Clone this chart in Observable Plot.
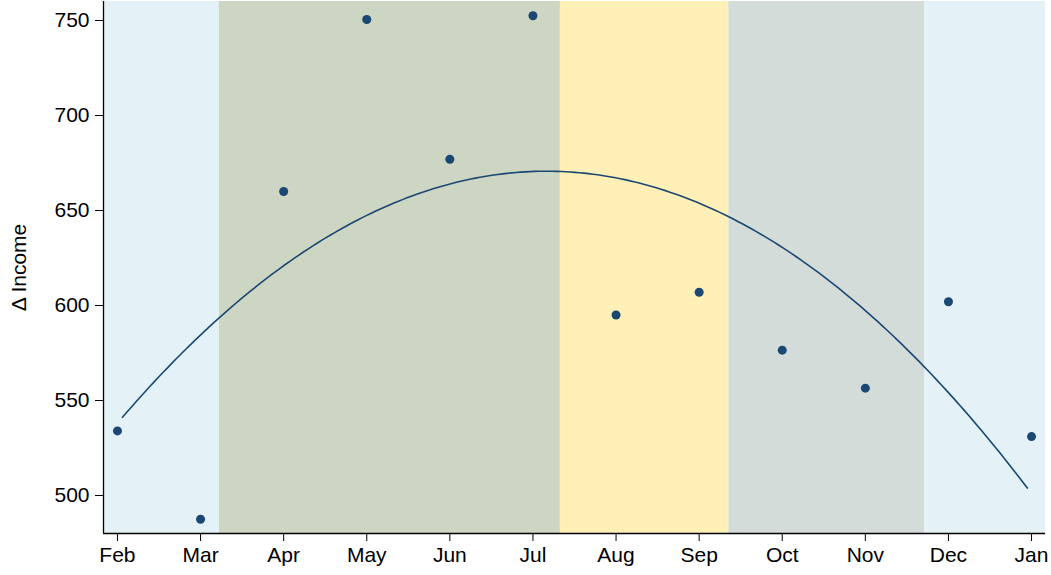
<!DOCTYPE html>
<html>
<head>
<meta charset="utf-8">
<script src="https://cdn.jsdelivr.net/npm/d3@7"></script>
<script src="https://cdn.jsdelivr.net/npm/@observablehq/plot@0.6"></script>
<style>
  html, body { margin: 0; padding: 0; background: #fff; }
  #chart svg { display: block; }
  #chart svg text { font-size: 21px !important; font-family: Arial, 'Liberation Sans', Helvetica, sans-serif; fill: #000; }
</style>
</head>
<body>
<div id="chart"></div>
<script>
// Month categories (x = 1..12)
const months = ["Feb","Mar","Apr","May","Jun","Jul","Aug","Sep","Oct","Nov","Dec","Jan"];
// Δ Income values
const income = [534, 487.5, 660, 750.5, 677, 752.5, 595, 607, 576.5, 556.5, 602, 531];
// y-axis ticks
const yTicks = [500, 550, 600, 650, 700, 750];
// Season bands (in month-index units)
const seasonNames = ["Winter", "Spring", "Summer", "Fall", "Winter "];
const seasonStart = [0.832, 2.227, 6.33, 8.358, 10.713];
const seasonEnd   = [2.227, 6.33, 8.358, 10.713, 12.168];
// Range of fitted curve
const fitStart = 1.06, fitEnd = 11.95;

const xDomain = [0.832, 12.168];
const yDomain = [480, 760];

const points = months.map((m, i) => ({x: i + 1, month: m, y: income[i]}));
const bands = seasonNames.map((s, i) => ({season: s, x1: seasonStart[i], x2: seasonEnd[i]}));

// Quadratic least-squares fit of income on month index
function quadFit(xs, ys) {
  let S = [[0,0,0],[0,0,0],[0,0,0]], B = [0,0,0];
  for (let i = 0; i < xs.length; i++) {
    const v = [1, xs[i], xs[i]*xs[i]];
    for (let r = 0; r < 3; r++) { B[r] += v[r]*ys[i]; for (let c = 0; c < 3; c++) S[r][c] += v[r]*v[c]; }
  }
  const A = S.map((row, r) => [...row, B[r]]);
  for (let k = 0; k < 3; k++) {
    for (let r = k + 1; r < 3; r++) {
      const f = A[r][k] / A[k][k];
      for (let c = k; c < 4; c++) A[r][c] -= f * A[k][c];
    }
  }
  const coef = [0,0,0];
  for (let r = 2; r >= 0; r--) {
    let s = A[r][3];
    for (let c = r + 1; c < 3; c++) s -= A[r][c]*coef[c];
    coef[r] = s / A[r][r];
  }
  return coef;
}
const coef = quadFit(points.map(d => d.x), income);
const fit = d3.range(0, 201).map(i => {
  const x = fitStart + (fitEnd - fitStart) * i / 200;
  return {x, y: coef[0] + coef[1]*x + coef[2]*x*x};
});

const navy = "#1b4872";
const font = "Arial, 'Liberation Sans', Helvetica, sans-serif";

const chart = Plot.plot({
  width: 1051,
  height: 575,
  marginLeft: 103,
  marginRight: 6,
  marginTop: 1,
  marginBottom: 42,
  style: {fontFamily: font, fontSize: "21px", color: "#000", background: "#fff"},
  x: {domain: xDomain},
  y: {domain: yDomain},
  color: {
    domain: seasonNames,
    range: ["#e4f1f7", "#cdd5c3", "#fef0b6", "#d3dcd9", "#e4f1f7"]
  },
  marks: [
    Plot.rect(bands, {x1: "x1", x2: "x2", fill: "season"}),
    Plot.axisX({ticks: d3.range(1, 13), tickFormat: d => months[d - 1], tickSize: 8, tickPadding: 6, label: null}),
    Plot.axisY({ticks: yTicks, tickSize: 8, tickPadding: 6, label: "Δ Income", labelAnchor: "center", labelArrow: "none", labelOffset: 92}),
    Plot.ruleX([xDomain[0]], {stroke: "#000", strokeWidth: 1.3}),
    Plot.ruleY([yDomain[0]], {stroke: "#000", strokeWidth: 1.3}),
    Plot.line(fit, {x: "x", y: "y", stroke: navy, strokeWidth: 1.6}),
    Plot.dot(points, {x: "x", y: "y", r: 4.5, fill: navy, stroke: "none"})
  ]
});
document.getElementById("chart").appendChild(chart);
</script>
</body>
</html>
